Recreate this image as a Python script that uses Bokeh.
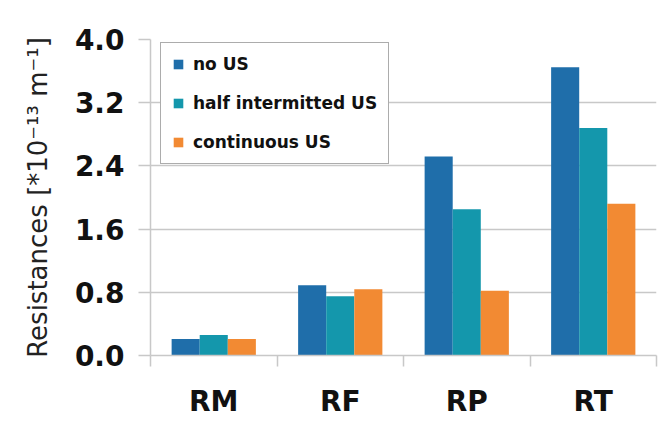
from bokeh.plotting import figure
from bokeh.models import (FactorRange, Range1d, LinearAxis, CategoricalAxis, FixedTicker,
                          Legend, LegendItem, NumeralTickFormatter, ColumnDataSource)
from bokeh.transform import dodge
from bokeh.embed import file_html
from bokeh.resources import INLINE

# ---- data ----
categories = ["RM", "RF", "RP", "RT"]
no_us = [0.21, 0.89, 2.52, 3.65]
half_intermitted_us = [0.26, 0.75, 1.85, 2.88]
continuous_us = [0.21, 0.84, 0.82, 1.92]
series_names = ["no US", "half intermitted US", "continuous US"]
y_ticks = [0.0, 0.8, 1.6, 2.4, 3.2, 4.0]
y_max = 4.0
y_label = "Resistances [*10\u207b\u00b9\u00b3 m\u207b\u00b9]"

colors = ["#1F6EAA", "#1497AC", "#F28A33"]
FONT = "DejaVu Sans"
GRID = "#c8c8c8"

source = ColumnDataSource(dict(cat=categories, no_us=no_us,
                               half=half_intermitted_us, cont=continuous_us))

p = figure(x_range=FactorRange(*categories), y_range=Range1d(0, y_max),
           width=663, height=425, output_backend="svg", toolbar_location=None,
           x_axis_location=None, y_axis_location="left",
           min_border_left=150, min_border_right=7, min_border_top=39, min_border_bottom=70)
p.outline_line_color = None
p.background_fill_color = "white"
p.border_fill_color = "white"

# y axis
yax = p.yaxis[0]
yax.ticker = FixedTicker(ticks=y_ticks)
yax.formatter = NumeralTickFormatter(format="0.0")
yax.major_label_text_font = FONT
yax.major_label_text_font_style = "bold"
yax.major_label_text_font_size = "28px"
yax.major_label_text_color = "#111111"
yax.major_tick_out = 12
yax.major_tick_in = 0
yax.minor_tick_line_color = None
yax.major_tick_line_color = GRID
yax.major_tick_line_width = 1.5
yax.axis_line_color = GRID
yax.axis_line_width = 1.5
yax.major_label_standoff = 14
yax.axis_label = y_label
yax.axis_label_text_font = FONT
yax.axis_label_text_font_style = "normal"
yax.axis_label_text_font_size = "26px"
yax.axis_label_text_color = "#222222"
yax.axis_label_standoff = 19

p.ygrid.ticker = FixedTicker(ticks=y_ticks)
p.ygrid.grid_line_color = GRID
p.ygrid.grid_line_width = 1.5
p.xgrid.visible = False

# category separator axis: ticks at category boundaries (synthetic coords 0..n)
sep_axis = LinearAxis(ticker=FixedTicker(ticks=list(range(len(categories) + 1))),
                      major_tick_out=11, major_tick_in=0,
                      major_tick_line_color=GRID, major_tick_line_width=1.5,
                      minor_tick_line_color=None,
                      axis_line_color=GRID, axis_line_width=1.5,
                      major_label_text_font_size="0px", major_label_text_color=None,
                      major_label_standoff=0)
p.add_layout(sep_axis, "below")

cat_axis = CategoricalAxis(major_tick_line_color=None, major_tick_out=0, major_tick_in=0,
                           axis_line_color=None,
                           major_label_text_font=FONT, major_label_text_font_style="bold",
                           major_label_text_font_size="28px", major_label_text_color="#111111",
                           major_label_standoff=18)
p.add_layout(cat_axis, "below")

# bars
bw = 0.222
offsets = [-bw, 0.0, bw]
cols = ["no_us", "half", "cont"]
items = []
for name, col, off, c in zip(series_names, cols, offsets, colors):
    r = p.vbar(x=dodge("cat", off, range=p.x_range), top=col, width=bw, source=source,
               fill_color=c, line_color=None)
    items.append(LegendItem(label=name, renderers=[r]))

legend = Legend(items=items, location=(10, 191),
                border_line_color="#5a5a5a", border_line_width=1.5,
                background_fill_color="white", background_fill_alpha=1.0,
                padding=11, spacing=19, margin=0,
                label_height=18, glyph_height=12, glyph_width=12, label_standoff=9,
                label_text_font=FONT, label_text_font_style="bold",
                label_text_font_size="17px", label_text_color="#111111")
p.add_layout(legend, "center")

open("out.html", "w").write(file_html(p, INLINE))
